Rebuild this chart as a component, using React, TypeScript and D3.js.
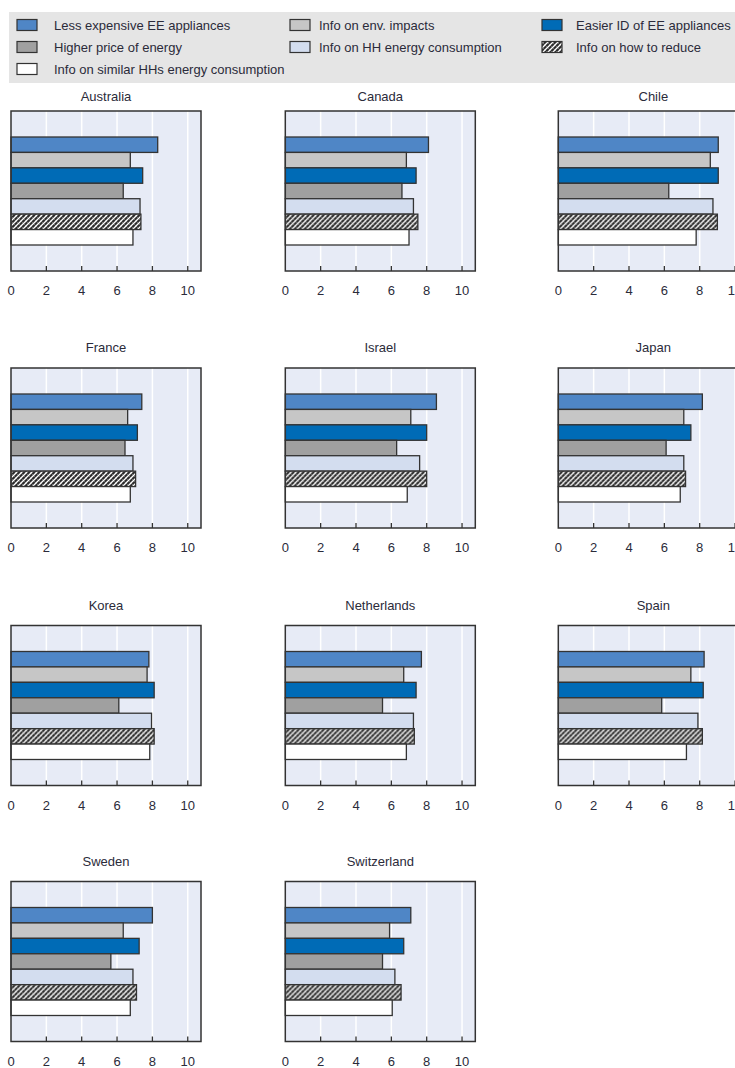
import React from "react";
import * as d3 from "d3";

const countries = ["Australia", "Canada", "Chile", "France", "Israel", "Japan", "Korea", "Netherlands", "Spain", "Sweden", "Switzerland"];
const seriesNames = [
  "Less expensive EE appliances",
  "Info on env. impacts",
  "Easier ID of EE appliances",
  "Higher price of energy",
  "Info on HH energy consumption",
  "Info on how to reduce",
  "Info on similar HHs energy consumption",
];
const lessExpensive = [8.3, 8.1, 9.05, 7.4, 8.55, 8.15, 7.8, 7.7, 8.25, 8.0, 7.1];
const envImpacts = [6.75, 6.85, 8.6, 6.6, 7.1, 7.1, 7.7, 6.7, 7.5, 6.35, 5.9];
const easierId = [7.45, 7.4, 9.05, 7.15, 8.0, 7.5, 8.1, 7.4, 8.2, 7.25, 6.7];
const higherPrice = [6.35, 6.6, 6.25, 6.45, 6.3, 6.1, 6.1, 5.5, 5.85, 5.65, 5.5];
const hhConsumption = [7.3, 7.25, 8.75, 6.9, 7.6, 7.1, 7.95, 7.25, 7.9, 6.9, 6.2];
const howToReduce = [7.35, 7.5, 9.0, 7.05, 8.0, 7.2, 8.1, 7.3, 8.15, 7.1, 6.55];
const similarHH = [6.9, 7.0, 7.8, 6.75, 6.9, 6.9, 7.85, 6.85, 7.25, 6.75, 6.05];
const seriesValues = [lessExpensive, envImpacts, easierId, higherPrice, hhConsumption, howToReduce, similarHH];
const tickValues = [0, 2, 4, 6, 8, 10];
const seriesFills = ["#4F86C6", "#C6C6C6", "#006BB6", "#A0A0A0", "#D3DDEF", "url(#hatch)", "#FFFFFF"];

const FONT = "'Liberation Sans', Arial, sans-serif";

export default function App() {
  const W = 735;
  const H = 1068;
  const panelW = 190;
  const panelH = 160;
  const colX = [11, 285.3, 558.3];
  const rowY = [111, 368, 625.5, 881.5];
  const x = d3.scaleLinear().domain([0, 10.75]).range([0, panelW]);
  const y = d3.scaleBand<number>().domain(d3.range(seriesNames.length)).range([26, panelH - 26]).padding(0);
  const textColor = "#2b2b3a";

  const legendCols = [17, 290, 542];
  const legendRows = [25, 47, 69];
  const legendTextOffset = [37, 29, 34];

  return (
    <svg width={W} height={H} style={{ position: "absolute", left: 0, top: 0, background: "#fff" }} fontFamily={FONT}>
      <defs>
        <pattern id="hatch" patternUnits="userSpaceOnUse" width={5} height={5}>
          <rect width={5} height={5} fill="#2e2e2e" />
          <path d="M0,0 L5,5" stroke="#777" strokeWidth={0.8} />
          <path d="M-1,6 L6,-1 M-1,1 L1,-1 M4,6 L6,4" stroke="#ffffff" strokeWidth={1.3} />
        </pattern>
      </defs>
      <rect x={9} y={12} width={740} height={71} fill="#E5E5E5" />
      {seriesNames.map((name, i) => {
        const cx = legendCols[i % 3];
        const cy = legendRows[Math.floor(i / 3)];
        return (
          <g key={name}>
            <rect x={cx} y={cy - 5.5} width={20} height={11} fill={seriesFills[i]} stroke="#333" strokeWidth={1.2} />
            <text x={cx + legendTextOffset[i % 3]} y={cy + 4.5} fontSize={13} fill={textColor}>
              {name}
            </text>
          </g>
        );
      })}
      {countries.map((c, ci) => {
        const left = colX[ci % 3];
        const row = Math.floor(ci / 3);
        const top = rowY[row];
        return (
          <g key={c} transform={`translate(${left},${top})`}>
            <text x={panelW / 2} y={row === 0 ? -10 : -16} textAnchor="middle" fontSize={13} fill={textColor}>
              {c}
            </text>
            <rect x={0} y={0} width={panelW} height={panelH} fill="#E7EBF6" />
            {tickValues.slice(1).map((t) => (
              <line key={t} x1={x(t)} x2={x(t)} y1={0} y2={panelH} stroke="#fff" strokeWidth={1.5} />
            ))}
            {seriesValues.map((vals, si) => (
              <rect
                key={si}
                x={0}
                y={y(si)!}
                width={x(vals[ci])}
                height={y.bandwidth()}
                fill={seriesFills[si]}
                stroke="#333"
                strokeWidth={1.3}
              />
            ))}
            {tickValues.slice(1).map((t) => (
              <line key={"t" + t} x1={x(t)} x2={x(t)} y1={panelH - 5} y2={panelH} stroke="#333" strokeWidth={1.3} />
            ))}
            <rect x={0} y={0} width={panelW} height={panelH} fill="none" stroke="#333" strokeWidth={1.5} />
            {tickValues.map((t) => (
              <text key={"l" + t} x={x(t)} y={panelH + 24} textAnchor="middle" fontSize={13} fill={textColor}>
                {t}
              </text>
            ))}
          </g>
        );
      })}
    </svg>
  );
}
